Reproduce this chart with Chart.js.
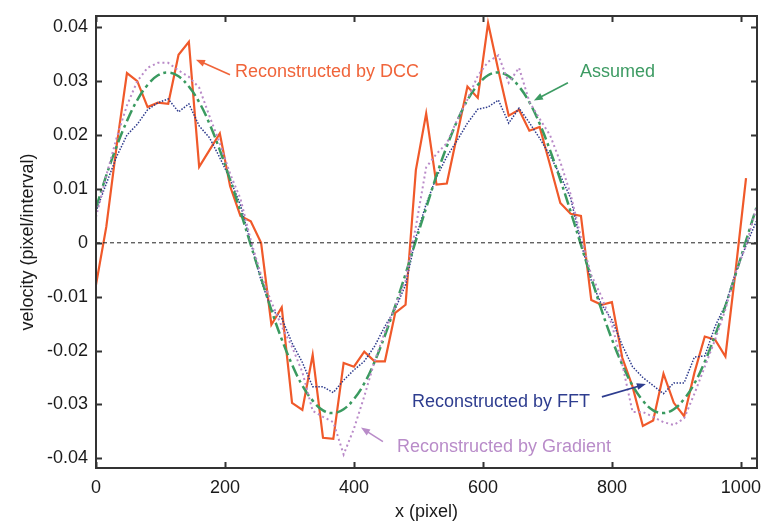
<!DOCTYPE html>
<html>
<head>
<meta charset="utf-8">
<script src="https://cdn.jsdelivr.net/npm/chart.js@4.4.1/dist/chart.umd.min.js"></script>
<style>
html,body{margin:0;padding:0;background:#fff;}
canvas{display:block;}
</style>
</head>
<body>
<canvas id="c" width="763" height="525"></canvas>
<script>
// x positions (pixel)
const xPos = [0,16,32,48,64,80,96,112,128,144,160,176,192,208,224,240,256,272,288,304,320,336,352,368,384,400,416,432,448,464,480,496,512,528,544,560,576,592,608,624,640,656,672,688,704,720,736,752,768,784,800,816,832,848,864,880,896,912,928,944,960,976,992,1008,1024];

// Reconstructed by DCC (x = 0..1008)
const dcc = [-0.0078,0.003,0.018,0.0315,0.030,0.0252,0.026,0.0258,0.0349,0.0373,0.0141,0.0172,0.0203,0.0105,0.005,0.004,0.0,-0.0152,-0.012,-0.0297,-0.031,-0.0208,-0.0362,-0.0364,-0.0223,-0.023,-0.0202,-0.022,-0.022,-0.013,-0.0115,0.0135,0.024,0.0108,0.011,0.020,0.029,0.0269,0.0408,0.032,0.0236,0.0247,0.0208,0.0215,0.0145,0.0074,0.0054,0.005,-0.0106,-0.0115,-0.011,-0.0213,-0.0267,-0.034,-0.033,-0.0243,-0.0297,-0.0322,-0.0241,-0.0174,-0.018,-0.0211,-0.005,0.012];

// Assumed
const assumed = [0.0065,0.0125,0.0179,0.0226,0.0265,0.0293,0.0311,0.0316,0.0309,0.0290,0.0261,0.0221,0.0172,0.0117,0.0058,-0.0004,-0.0065,-0.0125,-0.0179,-0.0226,-0.0265,-0.0293,-0.0311,-0.0316,-0.0309,-0.0290,-0.0261,-0.0221,-0.0172,-0.0117,-0.0058,0.0004,0.0065,0.0125,0.0179,0.0226,0.0265,0.0293,0.0311,0.0316,0.0309,0.0290,0.0261,0.0221,0.0172,0.0117,0.0058,-0.0004,-0.0065,-0.0125,-0.0179,-0.0226,-0.0265,-0.0293,-0.0311,-0.0316,-0.0309,-0.0290,-0.0261,-0.0221,-0.0172,-0.0117,-0.0058,0.0004,0.0065];

// Reconstructed by FFT
const fft = [0.0058,0.011,0.016,0.020,0.022,0.0247,0.026,0.0267,0.0243,0.0258,0.0217,0.0195,0.0158,0.0118,0.007,0.0,-0.007,-0.0124,-0.014,-0.0186,-0.0222,-0.0267,-0.0267,-0.0278,-0.0255,-0.0236,-0.022,-0.0192,-0.0155,-0.0123,-0.0078,0.001,0.0072,0.0122,0.016,0.019,0.0222,0.0248,0.0252,0.0265,0.0222,0.025,0.0223,0.0194,0.0162,0.0125,0.0083,0.0,-0.007,-0.0115,-0.0143,-0.019,-0.023,-0.025,-0.0265,-0.028,-0.026,-0.026,-0.0212,-0.021,-0.0155,-0.0115,-0.0055,-0.0005,0.004];

// Reconstructed by Gradient
const gradient = [0.0048,0.0125,0.0195,0.0255,0.030,0.0325,0.0334,0.0334,0.032,0.0308,0.0288,0.0235,0.0185,0.0128,0.0082,0.0005,-0.006,-0.011,-0.0155,-0.0193,-0.024,-0.0312,-0.0323,-0.0333,-0.0393,-0.0345,-0.0285,-0.022,-0.0165,-0.0118,-0.007,0.003,0.014,0.0165,0.0185,0.0228,0.0266,0.031,0.0336,0.0348,0.0297,0.0325,0.0262,0.023,0.020,0.015,0.009,0.001,-0.006,-0.010,-0.0152,-0.0225,-0.0314,-0.0314,-0.0323,-0.0333,-0.0338,-0.0326,-0.028,-0.023,-0.018,-0.0124,-0.0055,-0.0005,0.0065];

// zero reference line
const zeroX = [0, 1025];
const zeroY = [0, 0];

const xTicks = [0,200,400,600,800,1000];
const yTicks = [-0.04,-0.03,-0.02,-0.01,0,0.01,0.02,0.03,0.04];

const FONT = '"Liberation Sans", Arial, Helvetica, sans-serif';
const C_DCC = '#F0592A', C_ASM = '#3A9A60', C_FFT = '#2D3A8C', C_GRD = '#B98AC8';

function pts(xs, ys){ return ys.map((v,i)=>({x:xs[i], y:v})); }

// annotations (data units)
const notes = [
  {text:'Reconstructed by DCC', color:'#F0643A', tx:215.5, ty:0.0317, ax:[207.8,0.0312], ah:[155,0.0340]},
  {text:'Assumed', color:'#3D9B63', tx:750.4, ty:0.0317, ax:[731.8,0.0297], ah:[679,0.0264]},
  {text:'Reconstructed by FFT', color:'#2E3D8F', tx:490, ty:-0.0295, ax:[784.5,-0.0286], ah:[852.7,-0.0262]},
  {text:'Reconstructed by Gradient', color:'#B98CC9', tx:466.7, ty:-0.0380, ax:[445,-0.0369], ah:[410.9,-0.0343]}
];

const framePlugin = {
  id:'frame',
  afterDatasetsDraw(chart){
    const {ctx, chartArea:a, scales:{x, y}} = chart;
    ctx.save();
    // annotations
    ctx.font = '18px ' + FONT;
    ctx.textBaseline = 'middle';
    ctx.textAlign = 'left';
    notes.forEach(n=>{
      ctx.fillStyle = n.color;
      ctx.fillText(n.text, x.getPixelForValue(n.tx), y.getPixelForValue(n.ty));
      const x1 = x.getPixelForValue(n.ax[0]), y1 = y.getPixelForValue(n.ax[1]);
      const x2 = x.getPixelForValue(n.ah[0]), y2 = y.getPixelForValue(n.ah[1]);
      const ang = Math.atan2(y2-y1, x2-x1);
      ctx.strokeStyle = n.color; ctx.lineWidth = 1.6;
      ctx.beginPath(); ctx.moveTo(x1,y1);
      ctx.lineTo(x2 - 6*Math.cos(ang), y2 - 6*Math.sin(ang)); ctx.stroke();
      ctx.beginPath();
      ctx.moveTo(x2, y2);
      ctx.lineTo(x2 - 9*Math.cos(ang) + 3.5*Math.sin(ang), y2 - 9*Math.sin(ang) - 3.5*Math.cos(ang));
      ctx.lineTo(x2 - 9*Math.cos(ang) - 3.5*Math.sin(ang), y2 - 9*Math.sin(ang) + 3.5*Math.cos(ang));
      ctx.closePath(); ctx.fill();
    });
    // frame
    ctx.strokeStyle = '#333'; ctx.lineWidth = 2;
    ctx.strokeRect(a.left, a.top, a.right-a.left, a.bottom-a.top);
    // inward ticks
    ctx.lineWidth = 2;
    ctx.beginPath();
    x.ticks.forEach(t=>{
      const px = Math.round(x.getPixelForValue(t.value))+0.5;
      ctx.moveTo(px, a.bottom); ctx.lineTo(px, a.bottom-6);
      ctx.moveTo(px, a.top); ctx.lineTo(px, a.top+6);
    });
    y.ticks.forEach(t=>{
      const py = Math.round(y.getPixelForValue(t.value))+0.5;
      ctx.moveTo(a.left, py); ctx.lineTo(a.left+6, py);
      ctx.moveTo(a.right, py); ctx.lineTo(a.right-6, py);
    });
    ctx.stroke();
    ctx.restore();
  }
};

new Chart(document.getElementById('c'), {
  type:'line',
  data:{
    datasets:[
      {label:'zero', data:pts(zeroX, zeroY), borderColor:'#222', borderWidth:1, borderDash:[4,3], pointRadius:0},
      {label:'Reconstructed by Gradient', data:pts(xPos, gradient), borderColor:C_GRD, borderWidth:2, borderDash:[2,3], pointRadius:0, tension:0},
      {label:'Assumed', data:pts(xPos, assumed), borderColor:C_ASM, borderWidth:2.5, borderDash:[12,4,3,4], pointRadius:0, tension:0.4},
      {label:'Reconstructed by FFT', data:pts(xPos, fft), borderColor:C_FFT, borderWidth:1.5, borderDash:[1.5,1.5], pointRadius:0, tension:0},
      {label:'Reconstructed by DCC', data:pts(xPos, dcc), borderColor:C_DCC, borderWidth:2.2, pointRadius:0, tension:0}
    ]
  },
  options:{
    responsive:false, animation:false, devicePixelRatio:1,
    layout:{padding:{left:0,right:6,top:16,bottom:0}},
    plugins:{legend:{display:false}, tooltip:{enabled:false}},
    scales:{
      x:{type:'linear', min:0, max:1025,
        afterBuildTicks(s){ s.ticks = xTicks.map(v=>({value:v})); },
        afterFit(s){ s.height = 57; s.paddingLeft = 0; s.paddingRight = 0; },
        grid:{display:false, drawTicks:false}, border:{display:false},
        ticks:{font:{family:FONT,size:18}, color:'#1a1a1a', padding:9, maxRotation:0, callback:v=>String(v)},
        title:{display:true, text:'x (pixel)', font:{family:FONT,size:18}, color:'#1a1a1a', padding:{top:0,bottom:2}}
      },
      y:{type:'linear', min:-0.0418, max:0.0421,
        afterBuildTicks(s){ s.ticks = yTicks.map(v=>({value:v})); },
        afterFit(s){ s.width = 96; s.paddingTop = 0; s.paddingBottom = 0; },
        grid:{display:false, drawTicks:false}, border:{display:false},
        ticks:{font:{family:FONT,size:18}, color:'#1a1a1a', padding:8, callback:v=> Math.abs(v)<1e-9 ? '0' : v.toFixed(2)},
        title:{display:true, text:'velocity (pixel/interval)', font:{family:FONT,size:18}, color:'#1a1a1a', padding:{top:17,bottom:0}}
      }
    }
  },
  plugins:[framePlugin]
});
</script>
</body>
</html>
